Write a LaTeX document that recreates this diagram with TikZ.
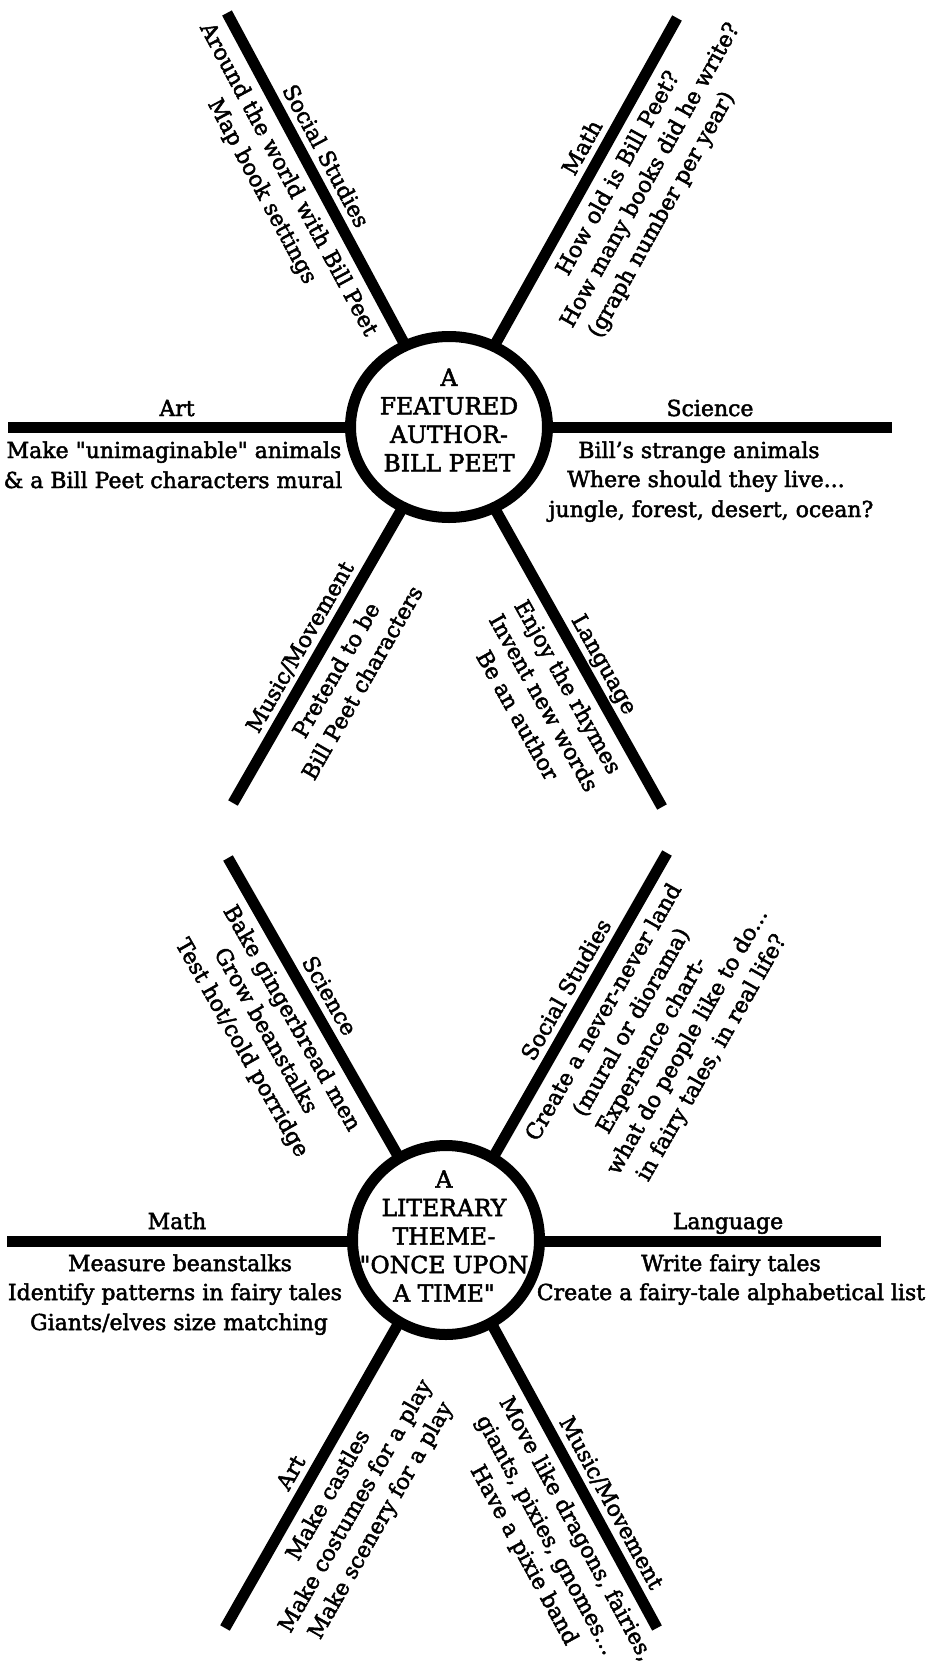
\documentclass[tikz,border=0pt]{standalone}
\usepackage{fontspec}
\setmainfont{DejaVu Serif}[FakeBold=2.2]
\usetikzlibrary{shapes.geometric,backgrounds}
\newcommand\txtfont{\fontsize{22}{28.5}\selectfont}
\newcommand\hubfont{\fontsize{23.5}{28.5}\selectfont}
% straight double quote, set as a glyph so the TeX ligature mapping leaves it alone
\newcommand\dq{\XeTeXglyph\XeTeXcharglyph"22\relax}
\begin{document}
\begin{tikzpicture}[x=1pt,y=1pt,
  bar/.style={line width=11pt},
  hub/.style={ellipse, draw, line width=11pt, fill=white, inner sep=0pt},
  title/.style={align=center, inner sep=0pt, font=\hubfont},
  lbl/.style={anchor=base, inner sep=0pt, font=\txtfont},
]
\useasboundingbox (0,0) rectangle (926,-1662);

% ---------------- featured author web ----------------
\node[hub, minimum width=197pt, minimum height=181pt] (hubA) at (449,-427) {};
\node[title] (titleA) at (449,-420) {A\\FEATURED\\AUTHOR-\\BILL PEET};
\coordinate (artEndA) at (8,-427);
\coordinate (sciEndA) at (892,-427);
\coordinate (ssEndA) at (227,-13);
\coordinate (mathEndA) at (677,-18);
\coordinate (musEndA) at (233,-803);
\coordinate (lanEndA) at (662,-807);
\begin{scope}[on background layer]
  \draw[bar] (artEndA) -- (sciEndA);
  \draw[bar] (hubA.center) -- (ssEndA);
  \draw[bar] (hubA.center) -- (mathEndA);
  \draw[bar] (hubA.center) -- (musEndA);
  \draw[bar] (hubA.center) -- (lanEndA);
\end{scope}

\begin{scope}[shift={(hubA.center)}, rotate=-61.8, transform shape]
  \node[lbl] (ssAl) at (-297,12) {Social Studies};
  \node[lbl] (ssA1) at (-294,-31) {Around the world with Bill Peet};
  \node[lbl] (ssA2) at (-296,-60) {Map book settings};
\end{scope}
\begin{scope}[shift={(hubA.center)}, rotate=60.9, transform shape]
  \node[lbl] (mathAl) at (309,12) {Math};
  \node[lbl] (mathA1) at (304,-31) {How old is Bill Peet?};
  \node[lbl] (mathA2) at (318,-60) {How many books did he write?};
  \node[lbl] (mathA3) at (289,-89) {(graph number per year)};
\end{scope}
\begin{scope}[shift={(hubA.center)}]
  \node[lbl] (artAl) at (-272,11) {Art};
  \node[lbl] (artA1) at (-275,-31) {Make \dq unimaginable\dq\ animals};
  \node[lbl] (artA2) at (-276,-61) {\& a Bill Peet characters mural};
  \node[lbl] (sciAl) at (261,11) {Science};
  \node[lbl] (sciA1) at (250,-31) {Bill's strange animals};
  \node[lbl] (sciA2) at (257,-60) {Where should they live...};
  \node[lbl] (sciA3) at (262,-90) {jungle, forest, desert, ocean?};
\end{scope}
\begin{scope}[shift={(hubA.center)}, rotate=60.1, transform shape]
  \node[lbl] (musAl) at (-265,12) {Music/Movement};
  \node[lbl] (musA1) at (-267,-31) {Pretend to be};
  \node[lbl] (musA2) at (-265,-60) {Bill Peet characters};
\end{scope}
\begin{scope}[shift={(hubA.center)}, rotate=-60.7, transform shape]
  \node[lbl] (lanAl) at (283,12) {Language};
  \node[lbl] (lanA1) at (285,-31) {Enjoy the rhymes};
  \node[lbl] (lanA2) at (287,-60) {Invent new words};
  \node[lbl] (lanA3) at (285,-89) {Be an author};
\end{scope}

% ---------------- literary theme web ----------------
\node[hub, minimum width=187pt, minimum height=189pt] (hubB) at (446,-1240) {};
\node[title] (titleB) at (444,-1236) {A\\LITERARY\\THEME-\\\dq ONCE UPON\\A TIME\dq};
\coordinate (mathEndB) at (7,-1241);
\coordinate (lanEndB) at (881,-1241);
\coordinate (sciEndB) at (228,-858);
\coordinate (ssEndB) at (667,-853);
\coordinate (artEndB) at (225,-1628);
\coordinate (musEndB) at (657,-1628);
\begin{scope}[on background layer]
  \draw[bar] (mathEndB) -- (lanEndB);
  \draw[bar] (hubB.center) -- (sciEndB);
  \draw[bar] (hubB.center) -- (ssEndB);
  \draw[bar] (hubB.center) -- (artEndB);
  \draw[bar] (hubB.center) -- (musEndB);
\end{scope}

\begin{scope}[shift={(hubB.center)}, rotate=-60.35, transform shape]
  \node[lbl] (sciBl) at (-270,12) {Science};
  \node[lbl] (sciB1) at (-269,-31) {Bake gingerbread men};
  \node[lbl] (sciB2) at (-271,-60) {Grow beanstalks};
  \node[lbl] (sciB3) at (-268,-89) {Test hot/cold porridge};
\end{scope}
\begin{scope}[shift={(hubB.center)}, rotate=60.3, transform shape]
  \node[lbl] (ssBl) at (277,12) {Social Studies};
  \node[lbl] (ssB1) at (276,-31) {Create a never-never land};
  \node[lbl] (ssB2) at (281,-60) {(mural or diorama)};
  \node[lbl] (ssB3) at (271,-89) {Experience chart-};
  \node[lbl] (ssB4) at (292,-118) {what do people like to do...};
  \node[lbl] (ssB5) at (290,-147) {in fairy tales, in real life?};
\end{scope}
\begin{scope}[shift={(hubB.center)}]
  \node[lbl] (mathBl) at (-269,11) {Math};
  \node[lbl] (mathB1) at (-266,-31) {Measure beanstalks};
  \node[lbl] (mathB2) at (-271,-60) {Identify patterns in fairy tales};
  \node[lbl] (mathB3) at (-267,-90) {Giants/elves size matching};
  \node[lbl] (lanBl) at (282,11) {Language};
  \node[lbl] (lanB1) at (285,-31) {Write fairy tales};
  \node[lbl] (lanB2) at (285,-60) {Create a fairy-tale alphabetical list};
\end{scope}
\begin{scope}[shift={(hubB.center)}, rotate=60.3, transform shape]
  \node[lbl] (artBl) at (-279,12) {Art};
  \node[lbl] (artB1) at (-280,-31) {Make castles};
  \node[lbl] (artB2) at (-276,-60) {Make costumes for a play};
  \node[lbl] (artB3) at (-276,-89) {Make scenery for a play};
\end{scope}
\begin{scope}[shift={(hubB.center)}, rotate=-61.4, transform shape]
  \node[lbl] (musBl) at (310,12) {Music/Movement};
  \node[lbl] (musB1) at (316,-31) {Move like dragons, fairies,};
  \node[lbl] (musB2) at (307,-60) {giants, pixies, gnomes...};
  \node[lbl] (musB3) at (314,-89) {Have a pixie band};
\end{scope}
\end{tikzpicture}
\end{document}
